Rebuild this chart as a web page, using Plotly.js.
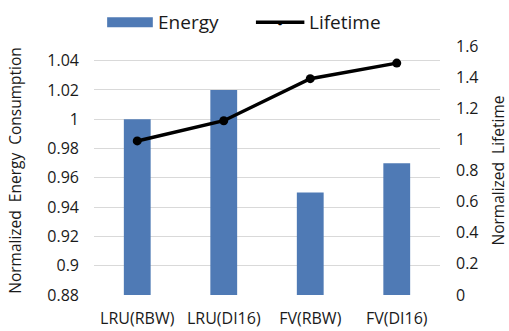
<!DOCTYPE html>
<html>
<head>
<meta charset="utf-8">
<script src="https://cdn.plot.ly/plotly-3.0.1.min.js"></script>
<style>html,body{margin:0;padding:0;background:#fff;}#chart{width:509px;height:331px;}</style>
</head>
<body>
<div id="chart"></div>
<script>
const categories = ["LRU(RBW)", "LRU(DI16)", "FV(RBW)", "FV(DI16)"];
const energy = [1.00, 1.02, 0.95, 0.97];
const lifetime = [0.99, 1.12, 1.39, 1.49];
const energyTicks = [0.88, 0.9, 0.92, 0.94, 0.96, 0.98, 1, 1.02, 1.04];
const energyTickText = ["0.88", "0.9", "0.92", "0.94", "0.96", "0.98", "1", "1.02", "1.04"];
const lifetimeTicks = [0, 0.2, 0.4, 0.6, 0.8, 1, 1.2, 1.4, 1.6];
const lifetimeTickText = ["0", "0.2", "0.4", "0.6", "0.8", "1", "1.2", "1.4", "1.6"];

const BLUE = "#4f7ab5";
const FONT = "Open Sans, Noto Sans, sans-serif";
const TXT = "#1a1a1a";

const traces = [
  {type: "bar", name: "Energy", x: categories, y: energy, marker: {color: BLUE}, yaxis: "y", showlegend: false},
  {type: "scatter", mode: "lines+markers", name: "Lifetime", x: categories, y: lifetime, yaxis: "y2",
   line: {color: "#000", width: 3.5}, marker: {color: "#000", size: 9}, showlegend: false}
];

const layout = {
  width: 509, height: 331,
  margin: {l: 94, r: 69, t: 46, b: 36},
  paper_bgcolor: "#fff", plot_bgcolor: "#fff",
  font: {family: FONT, color: TXT, size: 16},
  bargap: 0.69,
  xaxis: {type: "category", showgrid: false, zeroline: false, showline: false, ticks: "",
          tickfont: {size: 16}, ticklabelstandoff: 12},
  yaxis: {range: [0.88, 1.05], tickvals: energyTicks, ticktext: energyTickText, showgrid: true,
          gridcolor: "#d9d9d9", gridwidth: 1, zeroline: false, showline: false, ticks: "",
          ticklabelstandoff: 14, tickfont: {size: 16},
          title: {text: "Normalized  Energy  Consumption", font: {size: 15.5}, standoff: 21}},
  yaxis2: {range: [0, 1.6], overlaying: "y", side: "right", tickvals: lifetimeTicks, ticktext: lifetimeTickText,
           showgrid: false, zeroline: false, showline: false, ticks: "", ticklabelstandoff: 15, tickfont: {size: 16},
           title: {text: "Normalized  Lifetime", font: {size: 15.5}, standoff: 18}},
  shapes: [
    {type: "rect", xref: "paper", yref: "paper", x0: 0.038, x1: 0.17, y0: 1.075, y1: 1.115, fillcolor: BLUE, line: {width: 0}},
    {type: "line", xref: "paper", yref: "paper", x0: 0.468, x1: 0.608, y0: 1.095, y1: 1.095, line: {color: "#000", width: 3.5}}
  ],
  annotations: [
    {xref: "paper", yref: "paper", x: 0.178, y: 1.095, xanchor: "left", yanchor: "middle", text: "Energy", showarrow: false, font: {size: 19}},
    {xref: "paper", yref: "paper", x: 0.615, y: 1.095, xanchor: "left", yanchor: "middle", text: "Lifetime", showarrow: false, font: {size: 19}},
    {xref: "paper", yref: "paper", x: 0.538, y: 1.095, xanchor: "center", yanchor: "middle", text: "●", showarrow: false, font: {size: 10, color: "#000"}}
  ]
};

Plotly.newPlot("chart", traces, layout, {staticPlot: true, displayModeBar: false});
</script>
</body>
</html>
